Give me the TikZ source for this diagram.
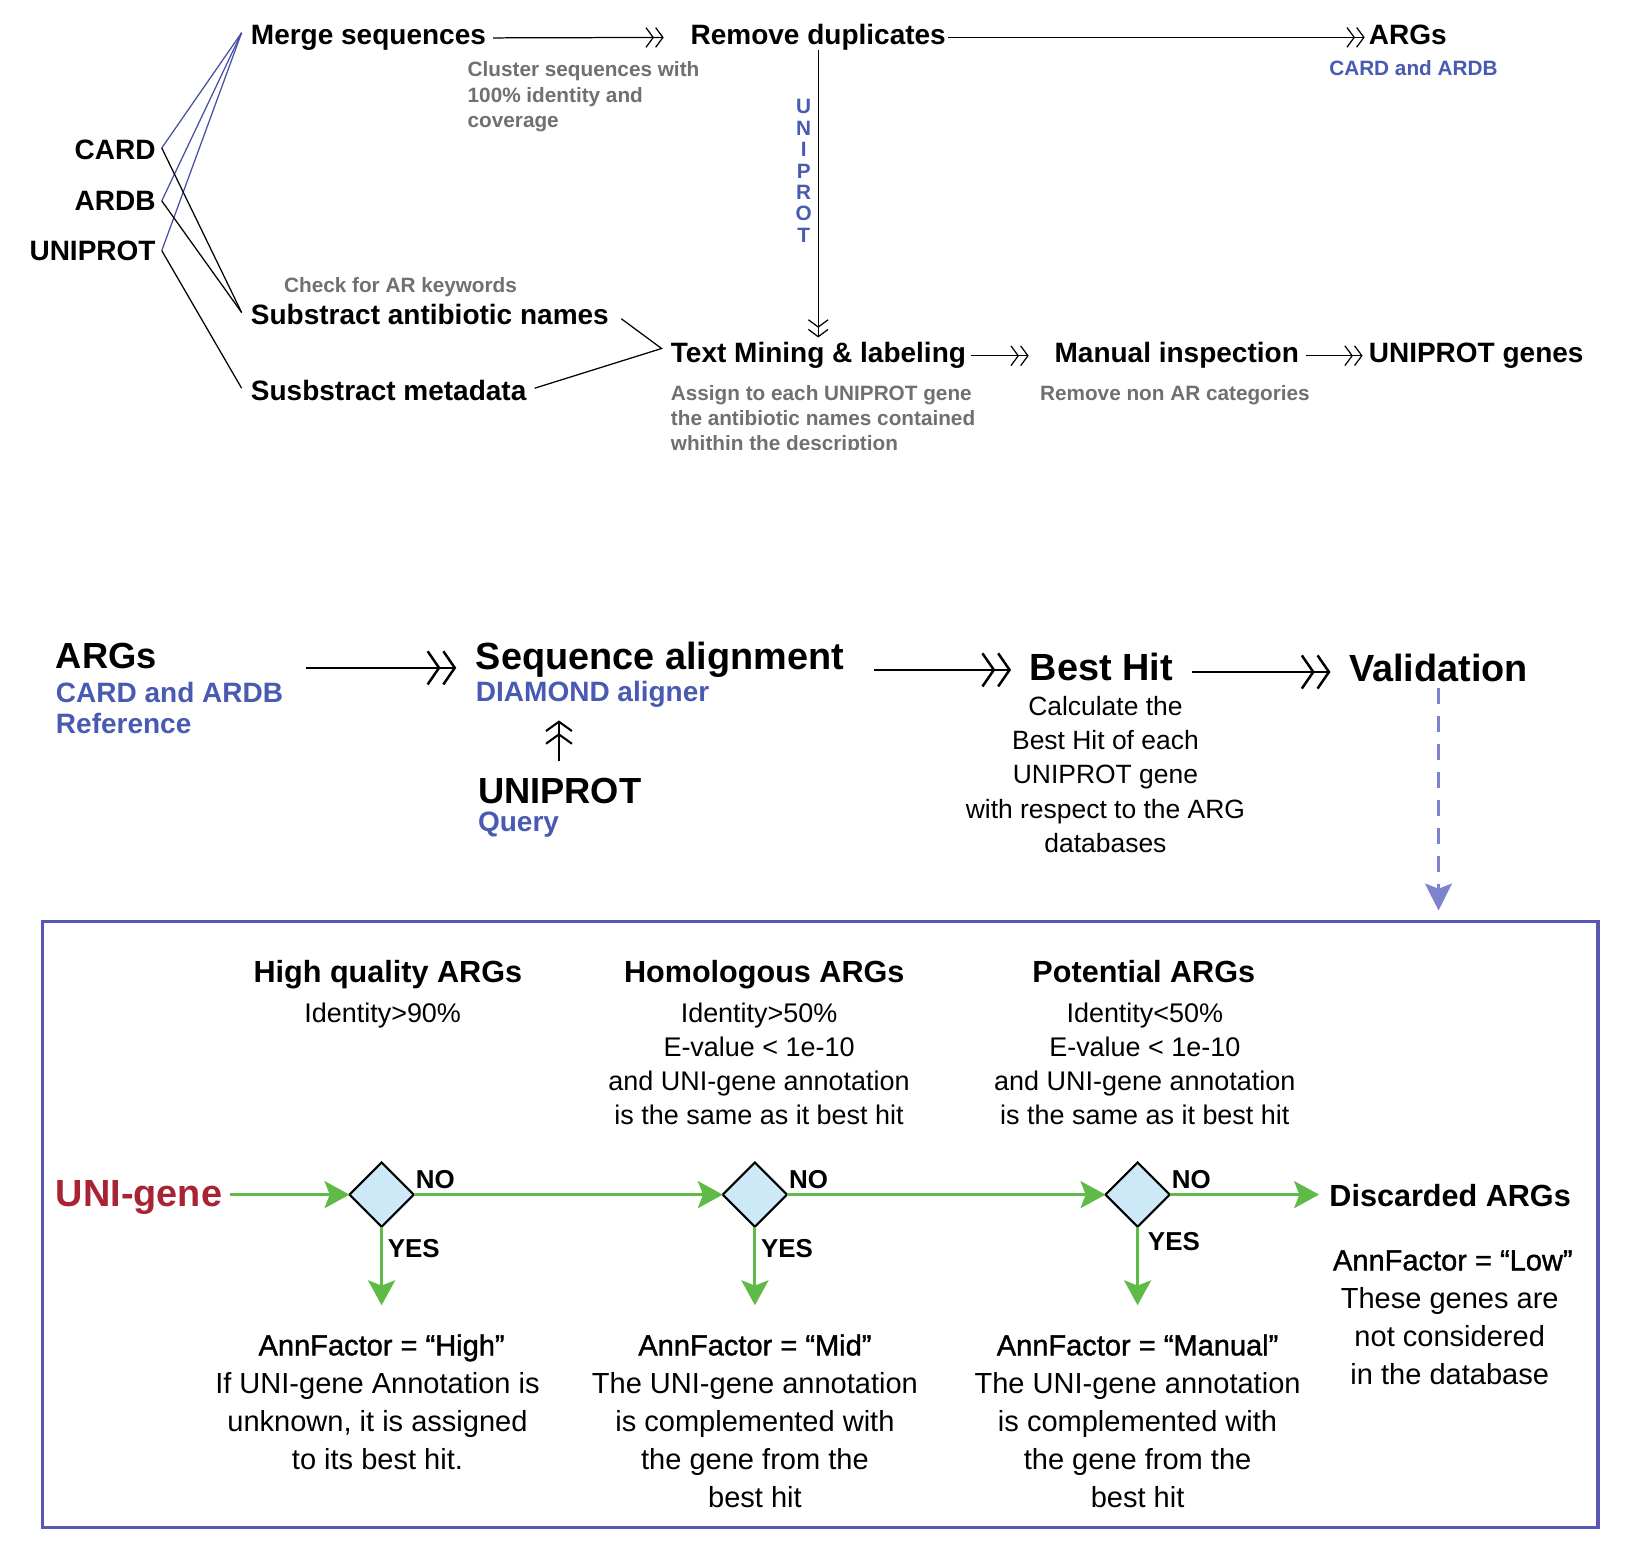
\documentclass[tikz,border=0pt]{standalone}
\usepackage{fontspec}
\setmainfont{Liberation Sans}
\usetikzlibrary{arrows.meta,shapes.geometric}
\definecolor{txtblue}{RGB}{72,90,178}
\definecolor{lineblue}{RGB}{70,80,165}
\definecolor{boxblue}{RGB}{88,88,178}
\definecolor{dashblue}{RGB}{125,132,205}
\definecolor{arrgreen}{RGB}{96,186,72}
\definecolor{unired}{RGB}{168,36,52}
\definecolor{dfill}{RGB}{205,232,246}
\definecolor{graytxt}{RGB}{112,112,112}
\newcommand\myfs[2]{\fontsize{#1}{#2}\selectfont}
\begin{document}
\begin{tikzpicture}[x=1pt,y=-1pt,
  every node/.style={inner sep=0pt,outer sep=0pt},
  hd/.style={font=\bfseries\myfs{27}{32},anchor=base west},
  note/.style={font=\bfseries\myfs{20}{24.5},text=graytxt},
  bnote/.style={font=\bfseries\myfs{20}{20.67},text=txtblue},
  big/.style={font=\bfseries\myfs{36.5}{40},anchor=base west},
  bsub/.style={font=\bfseries\myfs{27}{30},text=txtblue},
  cat/.style={font=\bfseries\myfs{29.5}{34},anchor=base},
  crit/.style={font=\myfs{26}{33},align=center,anchor=north},
  ann/.style={font=\myfs{28}{36.5}\addfontfeatures{FakeBold=1.2},anchor=base},
  desc/.style={font=\myfs{28}{36.5},align=center,anchor=north},
  yn/.style={font=\bfseries\myfs{25}{30},anchor=base west},
  dec/.style={diamond,draw=black,line width=2pt,fill=dfill,minimum width=62pt,minimum height=62pt,aspect=1},
  blueline/.style={draw=lineblue,line width=1.2pt},
  blkline/.style={draw=black,line width=1.2pt},
  dbl/.style={line width=1.2pt,-{Straight Barb[length=7pt,width=19pt,sep=1pt] Straight Barb[length=7pt,width=19pt]}},
  midarr/.style={line width=2.4pt,-{Straight Barb[length=11pt,width=32pt,sep=1.5pt] Straight Barb[length=11pt,width=32pt]}},
  uparr/.style={line width=2pt,-{Straight Barb[length=9pt,width=25pt,sep=1pt] Straight Barb[length=9pt,width=25pt]}},
  garrow/.style={draw=arrgreen,line width=3pt,-{Stealth[length=24pt,width=26pt,inset=5pt]}},
  dasharr/.style={draw=dashblue,line width=2pt,dash pattern=on 16pt off 11pt,-{Stealth[length=26pt,width=26pt,inset=5pt]}}
]
\fill[white] (0,0) rectangle (1568,1491);
\useasboundingbox (0,0) rectangle (1568,1491);

% ---------- top section ----------
\node[hd] (merge) at (242,43) {Merge sequences};
\node[note,align=left,anchor=north west] (cluster) at (451,59.4) {Cluster sequences with\\100\% identity and\\coverage};
\node[hd] (remove) at (666,43) {Remove duplicates};
\node[hd] (argstop) at (1320,43) {ARGs};
\node[note,text=txtblue,anchor=base] (cardardbtop) at (1363,73) {CARD and ARDB};
\node[bnote,align=center,anchor=north] (uvert) at (775,96) {U\\N\\I\\P\\R\\O\\T};
\node[hd,anchor=base east] (card) at (150,154) {CARD};
\node[hd,anchor=base east] (ardb) at (150,203) {ARDB};
\node[hd,anchor=base east] (uniprot) at (150,251) {UNIPROT};
\node[note,anchor=base west] (checkar) at (274,282) {Check for AR keywords};
\node[hd] (subnames) at (242,313) {Substract antibiotic names};
\node[hd] (meta) at (242,386) {Susbstract metadata};
\node[hd] (tm) at (647,350) {Text Mining \& labeling};
\begin{scope}
\clip (0,0) rectangle (1568,433);
\node[note,align=left,anchor=north west] (assign) at (647,371.4) {Assign to each UNIPROT gene\\the antibiotic names contained\\whithin the description};
\end{scope}
\node[hd] (manual) at (1017,350) {Manual inspection};
\node[note,anchor=base west] (removenon) at (1003,386) {Remove non AR categories};
\node[hd] (ugenes) at (1320,350) {UNIPROT genes};

\coordinate (cv) at ([xshift=6pt,yshift=2pt]card.east);
\coordinate (av) at ([xshift=6pt]ardb.east);
\coordinate (uv) at ([xshift=6pt]uniprot.east);
\coordinate (ma) at ([xshift=-9pt,yshift=5pt]merge.west);
\coordinate (sa) at ([xshift=-9pt,yshift=2pt]subnames.west);
\coordinate (mda) at ([xshift=-9pt,yshift=2pt]meta.west);
\coordinate (ta) at ([xshift=-9pt,yshift=7pt]tm.west);
\draw[blueline] (cv) -- (ma);
\draw[blueline] (av) -- (ma);
\draw[blueline] (uv) -- (ma);
\draw[blkline] (cv) -- (sa);
\draw[blkline] (av) -- (sa);
\draw[blkline] (uv) -- (mda);
\draw[blkline] ([xshift=12pt,yshift=-4pt]subnames.east) -- (ta) -- ([xshift=8pt,yshift=2pt]meta.east);

\draw[dbl,shorten <=7pt,shorten >=26pt] (merge.east) -- (remove.west);
\draw[dbl,shorten <=2pt,shorten >=4pt] (remove.east) -- (remove.east -| argstop.west);
\draw[dbl,shorten >=5pt] (remove.south) -- (remove.south |- tm.north);
\draw[dbl,shorten <=5pt,shorten >=25pt] (tm.east) -- (tm.east -| manual.west);
\draw[dbl,shorten <=7pt,shorten >=6pt] (manual.east) -- (manual.east -| ugenes.west);

% ---------- middle section ----------
\node[big,font=\bfseries\myfs{35}{40}] (args2) at (54,645) {ARGs};
\node[bsub,align=left,anchor=north west] (args2sub) at (54,657.8) {CARD and ARDB\\Reference};
\node[big] (seqal) at (459,646) {Sequence alignment};
\node[bsub,anchor=base west] (diamondq) at (459,676) {DIAMOND aligner};
\node[big,font=\bfseries\myfs{35}{40}] (uniprotq) at (461,775) {UNIPROT};
\node[bsub,anchor=base west] (query) at (461,802) {Query};
\node[big] (besthit) at (993,656) {Best Hit};
\node[font=\myfs{25.5}{33},align=center,anchor=north] (calc) at (1066,671.4) {Calculate the\\Best Hit of each\\UNIPROT gene\\with respect to the ARG\\databases};
\node[big] (valid) at (1301,657) {Validation};

\draw[midarr] ([xshift=22pt,yshift=2pt]args2sub.east |- seqal.base) -- ([xshift=-19pt,yshift=2pt]seqal.base west);
\draw[midarr,shorten <=29pt,shorten >=18pt] (seqal.base east) -- (seqal.base -| besthit.west);
\draw[midarr] ([xshift=19pt,yshift=8pt]besthit.base east) -- ([xshift=-18pt,yshift=8pt]besthit.base -| valid.west);
\draw[uparr] ([xshift=78pt,yshift=17pt]uniprotq.north west) -- ([xshift=80pt,yshift=-13pt]diamondq.south west);

% ---------- box ----------
\node[draw=boxblue,line width=3pt,minimum width=1500pt,minimum height=584pt,anchor=north west] (box) at (41,889) {};
\draw[dasharr,shorten <=6pt,shorten >=11pt] (valid.south) -- (valid.south |- box.north);

\node[cat] (h1) at (374,947) {High quality ARGs};
\node[crit] (c1) at (369,967) {Identity>90\%};
\node[cat] (h2) at (737,947) {Homologous ARGs};
\node[crit] (c2) at (732,967) {Identity>50\%\\E-value < 1e-10\\and UNI-gene annotation\\is the same as it best hit};
\node[cat] (h3) at (1103,947) {Potential ARGs};
\node[crit] (c3) at (1104,967) {Identity<50\%\\E-value < 1e-10\\and UNI-gene annotation\\is the same as it best hit};

\node[big,text=unired] (unigene) at (54,1163) {UNI-gene};
\node[dec] (d1) at (368,1152) {};
\node[dec] (d2) at (728,1152) {};
\node[dec] (d3) at (1097,1152) {};
\node[yn] (no1) at (401,1146) {NO};
\node[yn] (no2) at (761,1146) {NO};
\node[yn] (no3) at (1130,1146) {NO};
\node[yn] (yes1) at (374,1213) {YES};
\node[yn] (yes2) at (734,1213) {YES};
\node[yn] (yes3) at (1107,1206) {YES};
\node[cat,anchor=base west] (discarded) at (1282,1163) {Discarded ARGs};

\node[ann] (ann1) at (368,1307) {AnnFactor = “High”};
\node[desc] (desc1) at (364,1323.6) {If UNI-gene Annotation is\\unknown, it is assigned\\to its best hit.};
\node[ann] (ann2) at (728,1307) {AnnFactor = “Mid”};
\node[desc] (desc2) at (728,1323.6) {The UNI-gene annotation\\is complemented with\\the gene from the\\best hit};
\node[ann] (ann3) at (1097,1307) {AnnFactor = “Manual”};
\node[desc] (desc3) at (1097,1323.6) {The UNI-gene annotation\\is complemented with\\the gene from the\\best hit};
\node[ann] (ann4) at (1401,1225) {AnnFactor = “Low”};
\node[desc] (desc4) at (1398,1241.6) {These genes are\\not considered\\in the database};

\draw[garrow,shorten <=8pt] (unigene.east |- d1.west) -- (d1.west);
\draw[garrow] (d1.east) -- (d2.west);
\draw[garrow] (d2.east) -- (d3.west);
\draw[garrow,shorten >=10pt] (d3.east) -- (d3.east -| discarded.west);
\draw[garrow,shorten >=28pt] (d1.south) -- (d1.south |- ann1.north);
\draw[garrow,shorten >=28pt] (d2.south) -- (d2.south |- ann2.north);
\draw[garrow,shorten >=28pt] (d3.south) -- (d3.south |- ann3.north);
\end{tikzpicture}
\end{document}
